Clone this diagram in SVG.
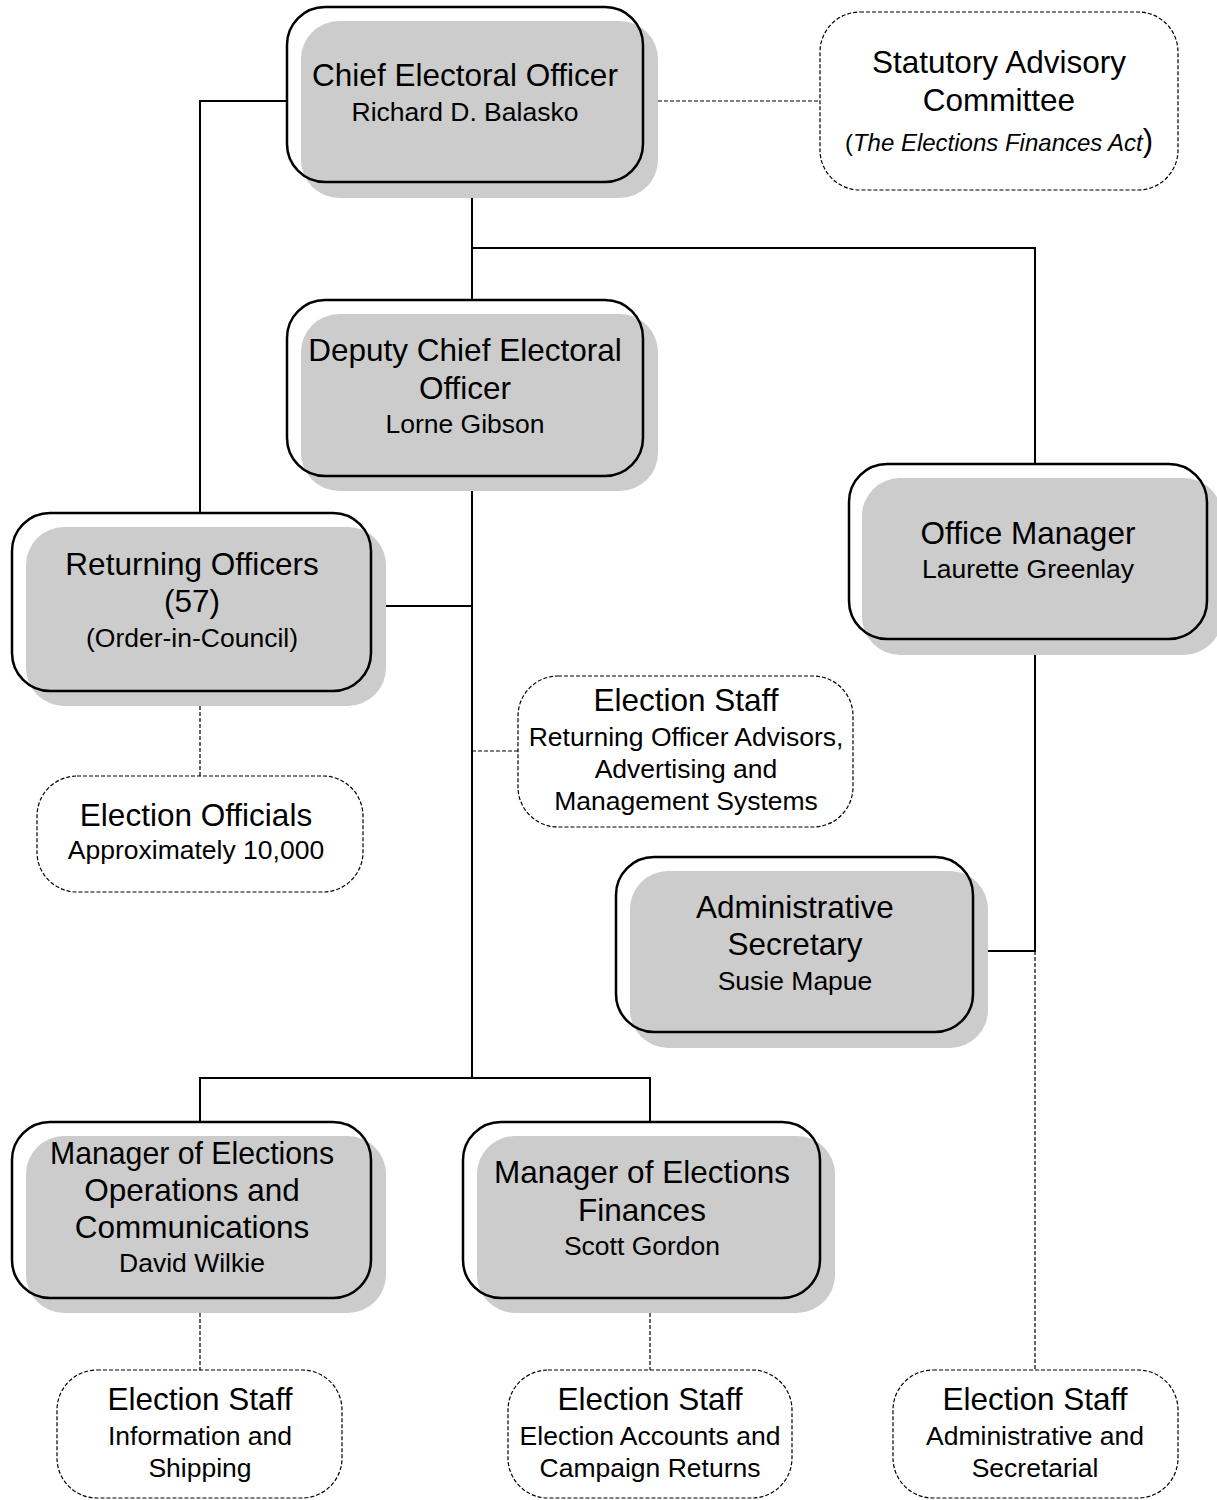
<svg xmlns="http://www.w3.org/2000/svg" width="1217" height="1500" viewBox="0 0 1217 1500">
<style>
.sh{fill:#cccccc;stroke:none}
.fr{fill:none;stroke:#000;stroke-width:2.5}
.db{fill:#fff;stroke:#000;stroke-width:1.2;stroke-dasharray:4 2}
.ln{fill:none;stroke:#000;stroke-width:2}
.dl{fill:none;stroke:#000;stroke-width:1.2;stroke-dasharray:4 2}
text{font-family:"Liberation Sans",Arial,sans-serif;fill:#000;text-anchor:middle}
.t{font-size:31.5px}
.s{font-size:26.5px}
</style>
<rect width="1217" height="1500" fill="#fff"/>
<g id="connectors">
<path class="ln" d="M287,101 H200 V513"/>
<path class="dl" d="M658,101 H820"/>
<path class="ln" d="M472,198 V300 M472,248 H1035 V464"/>
<path class="ln" d="M472,491 V1078 M200,1122 V1078 H650 V1122"/>
<path class="ln" d="M386,606 H472"/>
<path class="dl" d="M472,751 H518"/>
<path class="dl" d="M200,706 V776"/>
<path class="ln" d="M1035,655 V951 H988"/>
<path class="dl" d="M1035,951 V1370"/>
<path class="dl" d="M200,1313 V1370 M650,1313 V1370"/>
</g>
<g id="chief">
<rect class="sh" x="301" y="21" width="357" height="177" rx="38"/>
<rect class="fr" x="287" y="7" width="356" height="175" rx="38"/>
<text class="t" x="465" y="86">Chief Electoral Officer</text>
<text class="s" x="465" y="121">Richard D. Balasko</text>
</g>
<g id="statutory">
<rect class="db" x="820" y="12" width="358" height="178" rx="40"/>
<text class="t" x="999" y="73">Statutory Advisory</text>
<text class="t" x="999" y="111">Committee</text>
<text x="999" y="151" style="font-size:24px">(<tspan font-style="italic">The Elections Finances Act</tspan><tspan style="font-size:31px">)</tspan></text>
</g>
<g id="deputy">
<rect class="sh" x="301" y="314" width="357" height="177" rx="38"/>
<rect class="fr" x="287" y="300" width="356" height="176" rx="38"/>
<text class="t" x="465" y="361">Deputy Chief Electoral</text>
<text class="t" x="465" y="399">Officer</text>
<text class="s" x="465" y="433">Lorne Gibson</text>
</g>
<g id="office-manager">
<rect class="sh" x="862" y="478" width="360" height="177" rx="38"/>
<rect class="fr" x="849" y="464" width="358" height="175" rx="38"/>
<text class="t" x="1028" y="544">Office Manager</text>
<text class="s" x="1028" y="578">Laurette Greenlay</text>
</g>
<g id="returning">
<rect class="sh" x="26" y="527" width="360" height="179" rx="38"/>
<rect class="fr" x="12" y="513" width="359" height="178" rx="38"/>
<text class="t" x="192" y="575">Returning Officers</text>
<text class="t" x="192" y="612">(57)</text>
<text class="s" x="192" y="647">(Order-in-Council)</text>
</g>
<g id="staff-ro">
<rect class="db" x="518" y="676" width="335" height="151" rx="40"/>
<text class="t" x="686" y="711">Election Staff</text>
<text class="s" x="686" y="746">Returning Officer Advisors,</text>
<text class="s" x="686" y="778">Advertising and</text>
<text class="s" x="686" y="810">Management Systems</text>
</g>
<g id="officials">
<rect class="db" x="37" y="776" width="326" height="116" rx="40"/>
<text class="t" x="196" y="826">Election Officials</text>
<text class="s" x="196" y="859">Approximately 10,000</text>
</g>
<g id="admin-secretary">
<rect class="sh" x="630" y="871" width="358" height="177" rx="38"/>
<rect class="fr" x="616" y="857" width="357" height="175" rx="38"/>
<text class="t" x="795" y="918">Administrative</text>
<text class="t" x="795" y="955">Secretary</text>
<text class="s" x="795" y="990">Susie Mapue</text>
</g>
<g id="ops">
<rect class="sh" x="26" y="1136" width="360" height="177" rx="38"/>
<rect class="fr" x="12" y="1122" width="359" height="176" rx="38"/>
<text class="t" x="192" y="1164" textLength="284" lengthAdjust="spacingAndGlyphs">Manager of Elections</text>
<text class="t" x="192" y="1201">Operations and</text>
<text class="t" x="192" y="1238">Communications</text>
<text class="s" x="192" y="1272">David Wilkie</text>
</g>
<g id="finances">
<rect class="sh" x="477" y="1136" width="358" height="177" rx="38"/>
<rect class="fr" x="463" y="1122" width="357" height="176" rx="38"/>
<text class="t" x="642" y="1183">Manager of Elections</text>
<text class="t" x="642" y="1221">Finances</text>
<text class="s" x="642" y="1255">Scott Gordon</text>
</g>
<g id="staff-info">
<rect class="db" x="57" y="1370" width="285" height="128" rx="40"/>
<text class="t" x="200" y="1410">Election Staff</text>
<text class="s" x="200" y="1445">Information and</text>
<text class="s" x="200" y="1477">Shipping</text>
</g>
<g id="staff-accounts">
<rect class="db" x="508" y="1370" width="284" height="128" rx="40"/>
<text class="t" x="650" y="1410">Election Staff</text>
<text class="s" x="650" y="1445">Election Accounts and</text>
<text class="s" x="650" y="1477">Campaign Returns</text>
</g>
<g id="staff-admin">
<rect class="db" x="893" y="1370" width="285" height="128" rx="40"/>
<text class="t" x="1035" y="1410">Election Staff</text>
<text class="s" x="1035" y="1445">Administrative and</text>
<text class="s" x="1035" y="1477">Secretarial</text>
</g>
</svg>
